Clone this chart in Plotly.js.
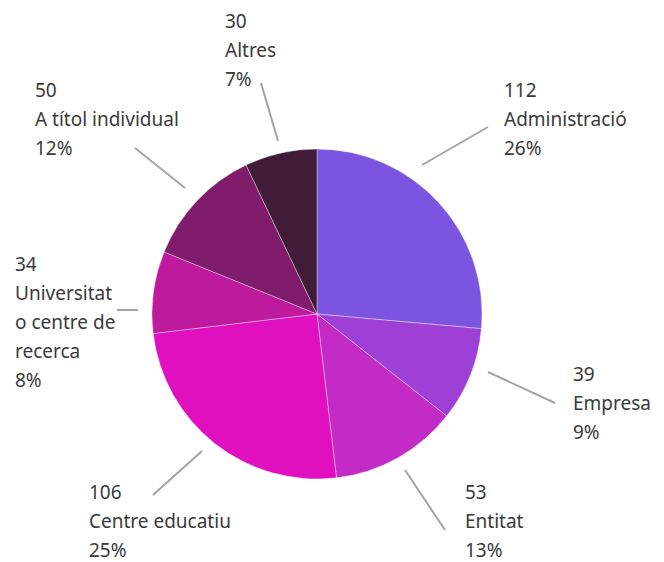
<!DOCTYPE html>
<html>
<head>
<meta charset="utf-8">
<script src="https://cdn.plot.ly/plotly-3.0.1.min.js"></script>
<style>html,body{margin:0;padding:0;background:#fff}#chart{width:664px;height:562px}</style>
</head>
<body>
<div id="chart"></div>
<script>
// Data
const categories = ["Administració", "Empresa", "Entitat", "Centre educatiu", "Universitat o centre de recerca", "A títol individual", "Altres"];
const labelLines = [["Administració"], ["Empresa"], ["Entitat"], ["Centre educatiu"], ["Universitat", "o centre de", "recerca"], ["A títol individual"], ["Altres"]];
const values = [112, 39, 53, 106, 34, 50, 30];
const percents = ["26%", "9%", "13%", "25%", "8%", "12%", "7%"];

// Styles / layout positions (pixels)
const colors = ["#7B55E0", "#9E3FD6", "#C22BC6", "#E010BF", "#BE1A9E", "#7F1C6B", "#401C38"];
const textPos = [[502, 90], [571, 374], [463, 492], [87, 492], [13, 264], [33, 90], [223, 21]];
const leaderPos = [[[422, 165], [488, 127]], [[488, 372], [555, 403]], [[405, 470], [445, 530]], [[202, 451], [153, 495]], [[117, 310], [138, 310]], [[185, 188], [135, 148]], [[278, 141], [261, 83]]];

const W = 664, H = 562;
const cx = 317, cy = 314, R = 165;
const px = x => x / W, py = y => 1 - y / H;
const lineH = 29;

const annotations = [];
const shapes = [];
categories.forEach((c, i) => {
  const lines = [String(values[i])].concat(labelLines[i]).concat([percents[i]]);
  lines.forEach((t, k) => {
    annotations.push({
      text: t, showarrow: false, xref: 'paper', yref: 'paper',
      x: px(textPos[i][0]), y: py(textPos[i][1] + k * lineH),
      xanchor: 'left', yanchor: 'middle',
      font: {family: 'Noto Sans, sans-serif', size: 19, color: '#3a3a3a'}
    });
  });
  const [a, b] = leaderPos[i];
  shapes.push({type: 'line', xref: 'paper', yref: 'paper',
    x0: px(a[0]), y0: py(a[1]), x1: px(b[0]), y1: py(b[1]),
    line: {color: '#a3a3a3', width: 2}});
});

const trace = {
  type: 'pie',
  labels: categories,
  values: values,
  sort: false,
  direction: 'clockwise',
  rotation: 0,
  textinfo: 'none',
  hoverinfo: 'label+value+percent',
  marker: {colors: colors, line: {color: 'rgba(255,255,255,0.6)', width: 0.6}},
  domain: {x: [px(cx - R), px(cx + R)], y: [py(cy + R), py(cy - R)]},
  showlegend: false
};

Plotly.newPlot('chart', [trace], {
  width: W, height: H,
  margin: {l: 0, r: 0, t: 0, b: 0},
  paper_bgcolor: '#fff',
  showlegend: false,
  annotations: annotations,
  shapes: shapes
}, {displayModeBar: false, staticPlot: true});
</script>
</body>
</html>
